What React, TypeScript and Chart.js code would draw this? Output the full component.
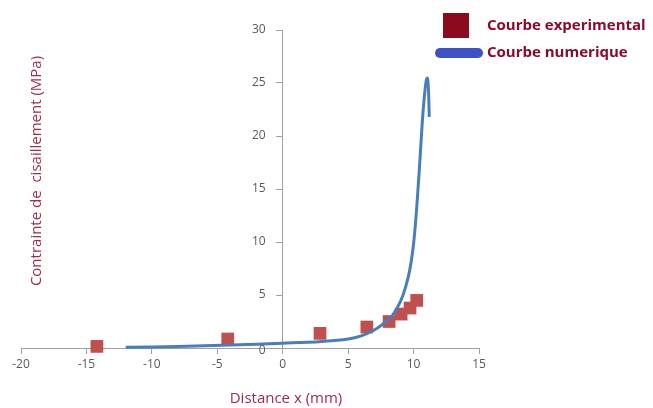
import React, { useEffect, useRef } from "react";
import { Chart, registerables } from "chart.js";

Chart.register(...registerables);

const expX = [-14.2, -4.2, 2.85, 6.43, 8.13, 9.05, 9.73, 10.24];
const expY = [0.15, 0.85, 1.38, 1.98, 2.5, 3.2, 3.77, 4.49];

const numX = [-12, -8, -4, 0, 3, 5, 6, 7, 7.7, 8.4, 9, 9.4, 9.7, 9.95, 10.15, 10.35, 10.5, 10.65, 10.8, 10.95, 11.05, 11.13, 11.2];
const numY = [0.06, 0.15, 0.28, 0.45, 0.62, 0.85, 1.15, 1.7, 2.3, 3.1, 4.4, 5.8, 7.3, 9.3, 11.8, 15.2, 18, 21, 23.4, 25.1, 25.45, 24.6, 21.8];

const xTicks = [-20, -15, -10, -5, 0, 5, 10, 15];
const yTicks = [0, 5, 10, 15, 20, 25, 30];

const legendLabels = ["Courbe experimental", "Courbe numerique"];
const xTitle = "Distance x (mm)";
const yTitle = "Contrainte de  cisaillement (MPa)";

const FONT = "'Open Sans', sans-serif";

const overlayPlugin = {
  id: "overlay",
  afterDraw(chart: any) {
    const ctx = chart.ctx;
    ctx.save();
    // y tick labels (axis sits at x = 0)
    const ys = chart.scales.y;
    const xs = chart.scales.x;
    const ax = xs.getPixelForValue(0);
    ctx.fillStyle = "#595959";
    ctx.font = `12px ${FONT}`;
    ctx.textAlign = "right";
    ctx.textBaseline = "middle";
    yTicks.forEach((v) => {
      ctx.fillText(String(v), ax - 17, ys.getPixelForValue(v) + (v === 0 ? 3 : 0));
    });
    // legend
    ctx.fillStyle = "#8B0A1E";
    ctx.fillRect(443, 13, 26, 25);
    ctx.strokeStyle = "#3F51C6";
    ctx.lineWidth = 10;
    ctx.lineCap = "round";
    ctx.beginPath();
    ctx.moveTo(440, 53);
    ctx.lineTo(478, 53);
    ctx.stroke();
    ctx.fillStyle = "#8B0A2A";
    ctx.font = `bold 15px ${FONT}`;
    ctx.textAlign = "left";
    ctx.textBaseline = "middle";
    ctx.fillText(legendLabels[0], 487, 26);
    ctx.fillText(legendLabels[1], 487, 53);
    // axis titles
    ctx.fillStyle = "#9E2B47";
    ctx.font = `15px ${FONT}`;
    ctx.textAlign = "center";
    ctx.fillText(xTitle, 286, 399);
    ctx.translate(37, 171);
    ctx.rotate(-Math.PI / 2);
    ctx.fillText(yTitle, 0, 0);
    ctx.restore();
  },
};

export default function App() {
  const ref = useRef<HTMLCanvasElement>(null);
  useEffect(() => {
    const chart = new Chart(ref.current!, {
      type: "scatter",
      data: {
        datasets: [
          {
            label: legendLabels[1],
            data: numX.map((x, i) => ({ x, y: numY[i] })),
            showLine: true,
            borderColor: "#4A7EBB",
            borderWidth: 3,
            pointRadius: 0,
            tension: 0.4,
            clip: false,
          } as any,
          {
            label: legendLabels[0],
            data: expX.map((x, i) => ({ x, y: expY[i] })),
            showLine: false,
            pointStyle: "rect",
            pointRadius: 9,
            backgroundColor: "#C0504D",
            borderWidth: 0,
            clip: false,
          } as any,
        ],
      },
      options: {
        responsive: false,
        animation: false,
        layout: { padding: { left: 21, right: 174, top: 30, bottom: 60 } },
        plugins: { legend: { display: false }, tooltip: { enabled: false } },
        scales: {
          x: {
            type: "linear",
            min: -20,
            max: 15,
            position: { y: 0 } as any,
            afterBuildTicks: (s: any) => {
              s.ticks = xTicks.map((v) => ({ value: v }));
            },
            ticks: { color: "#595959", font: { family: FONT, size: 12 }, padding: 4 },
            grid: { drawOnChartArea: false, drawTicks: true, tickLength: 5, color: "#A0A0A0" },
            border: { display: true, color: "#A0A0A0" },
          },
          y: {
            type: "linear",
            min: 0,
            max: 30,
            position: { x: 0 } as any,
            afterBuildTicks: (s: any) => {
              s.ticks = yTicks.map((v) => ({ value: v }));
            },
            ticks: { display: false },
            grid: { drawOnChartArea: false, drawTicks: true, tickLength: 6, color: "#A0A0A0" },
            border: { display: true, color: "#A0A0A0" },
          },
        },
      },
      plugins: [overlayPlugin],
    });
    return () => chart.destroy();
  }, []);
  return (
    <div style={{ position: "absolute", left: 0, top: 0, width: 653, height: 408, background: "#fff" }}>
      <canvas ref={ref} width={653} height={408} />
    </div>
  );
}
